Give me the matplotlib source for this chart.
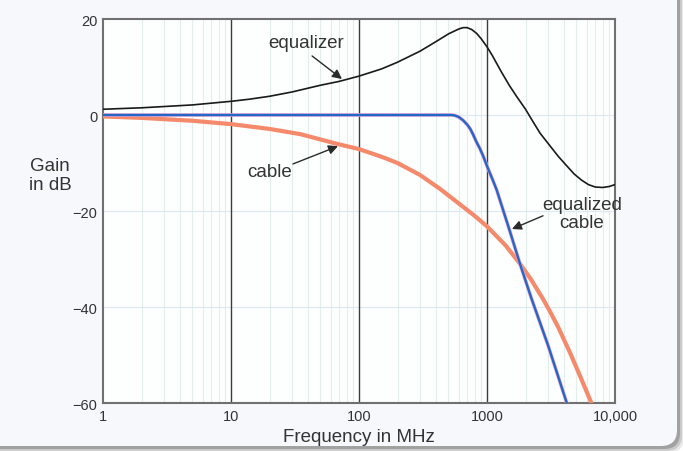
import numpy as np
import matplotlib.pyplot as plt
from matplotlib.patches import FancyBboxPatch
from matplotlib.transforms import IdentityTransform

plt.rcParams['font.family'] = ['Liberation Sans', 'DejaVu Sans']

# equalizer response (MHz, dB)
eq_freq = [1, 2, 5, 10, 14, 20, 30, 50, 70, 100, 150, 200, 300, 400, 500, 600, 650, 700,
           760, 830, 900, 1000, 1100, 1300, 1500, 1700, 2000, 2300, 2600, 3100, 3600, 4200,
           4800, 5500, 6200, 7000, 8000, 9000, 10000]
eq_gain = [1.2, 1.5, 2.1, 2.85, 3.3, 3.9, 4.8, 6.2, 7.0, 8.1, 9.6, 11.0, 13.3, 15.3, 16.9,
           17.9, 18.2, 18.2, 17.8, 17.0, 15.9, 14.2, 12.4, 8.9, 6.1, 3.9, 1.2, -1.5, -3.8,
           -6.4, -8.6, -10.6, -12.3, -13.6, -14.5, -15.0, -15.1, -14.9, -14.5]

# cable loss
cable_freq = [1, 2, 5, 10, 20, 35, 67, 100, 150, 200, 300, 430, 600, 800, 1000, 1400,
              1810, 2200, 2750, 3100, 3600, 4500, 5300, 6400, 6800]
cable_gain = [-0.3, -0.6, -1.2, -1.9, -2.9, -4.0, -6.0, -7.1, -8.7, -10.0, -12.5, -15.4,
              -18.4, -21.0, -23.2, -27.2, -31.0, -34.2, -38.4, -40.9, -44.2, -49.8, -54.2,
              -59.4, -61.2]

# equalized cable
eqc_freq = [1, 500, 530, 560, 600, 650, 700, 740, 780, 830, 880, 935, 1020, 1100, 1190,
            1500, 1810, 2230, 3000, 4200, 4500]
eqc_gain = [0, 0, 0, -0.1, -0.4, -1.1, -2.0, -2.9, -4.1, -5.7, -7.0, -8.6, -11.2, -13.3,
            -15.6, -24.0, -31.0, -38.3, -48.0, -60.0, -62.0]

xticks = [1, 10, 100, 1000, 10000]
xtick_labels = ['1', '10', '100', '1000', '10,000']
yticks = [-60, -40, -20, 0, 20]

fig = plt.figure(figsize=(6.83, 4.52), dpi=100)
fig.patch.set_facecolor('white')

# card with a soft shadow
for off, a in [(7, 0.15), (5, 0.25), (3, 0.45)]:
    fig.patches.append(FancyBboxPatch((-20 + off, 5 - off), 697, 467,
                                      boxstyle='round,pad=0,rounding_size=16',
                                      transform=IdentityTransform(),
                                      facecolor='#707070', edgecolor='none', alpha=a, zorder=-2))
fig.patches.append(FancyBboxPatch((-20, 5), 697, 467,
                                  boxstyle='round,pad=0,rounding_size=16',
                                  transform=IdentityTransform(),
                                  facecolor='#f6f8fb', edgecolor='none', zorder=-1))

ax = fig.add_axes([103/683, 1 - 404/452, 512/683, 384/452])
ax.set_zorder(2)
ax.set_facecolor('#fdfefe')
ax.set_xscale('log')
ax.set_xlim(1, 10000)
ax.set_ylim(-60, 20)

# faint minor grid + dark decade lines
for d in [1, 10, 100, 1000]:
    for m in range(2, 10):
        ax.axvline(d * m, color='#e2eee9', lw=0.8, zorder=1)
for y in [-40, -20, 0]:
    ax.axhline(y, color='#dde9f2', lw=0.8, zorder=1)
for d in [10, 100, 1000]:
    ax.axvline(d, color='#3c3c3c', lw=1.0, zorder=2)

ax.plot(cable_freq, cable_gain, color='#f5896b', lw=3.0, zorder=3,
        solid_joinstyle='round')
ax.plot(eqc_freq, eqc_gain, color='#eaa6cf', lw=2.6, zorder=4, solid_joinstyle='round')
ax.plot(eqc_freq, eqc_gain, color='#2467c8', lw=1.7, zorder=5, solid_joinstyle='round')
ax.plot(eq_freq, eq_gain, color='#1a1a1a', lw=1.2, zorder=6, solid_joinstyle='round')

ax.set_xticks(xticks)
ax.set_xticklabels(xtick_labels)
ax.set_yticks(yticks)
ax.set_yticklabels([str(v).replace('-', '\u2212') for v in yticks])
ax.xaxis.set_minor_locator(plt.NullLocator())
ax.tick_params(length=0, labelsize=10.5, labelcolor='#333333', pad=4)
for s in ax.spines.values():
    s.set_color('#707070')
    s.set_linewidth(1.5)
ax.set_xlabel('Frequency in MHz', fontsize=13.5, color='#333333', labelpad=4)

txt = dict(fontsize=13.5, color='#333333', ha='center', va='center', zorder=8)
arr = dict(arrowstyle='-|>', color='#2a2a2a', lw=1.0, mutation_scale=14, shrinkA=0, shrinkB=0)

ax.text(38.5, 15.0, 'equalizer', **txt)
ax.annotate('', xy=(73.6, 7.5), xytext=(43, 12.3), arrowprops=arr, zorder=8)

ax.text(20.2, -11.7, 'cable', **txt)
ax.annotate('', xy=(68.5, -6.5), xytext=(30.5, -10.2), arrowprops=arr, zorder=8)

ax.text(5500, -20.5, 'equalized\ncable', linespacing=1.05, **txt)
ax.annotate('', xy=(1567, -23.75), xytext=(2738, -21.0), arrowprops=arr, zorder=8)

fig.text(50/683, 1 - 176/452, 'Gain\nin dB', fontsize=13.5, color='#333333',
         ha='center', va='center', linespacing=1.1)

fig.savefig('out.png', dpi=100)
